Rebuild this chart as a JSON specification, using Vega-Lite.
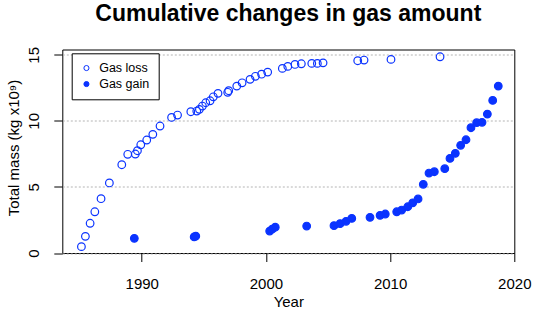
{
  "$schema": "https://vega.github.io/schema/vega-lite/v6.json",
  "width": 452,
  "height": 203.5,
  "autosize": "none",
  "padding": {"left": 62.3, "top": 49.5, "right": 18.7, "bottom": 57},
  "background": "white",
  "config": {
    "font": "Liberation Sans",
    "view": {"stroke": "black", "strokeWidth": 1}
  },
  "title": {
    "text": "Cumulative changes in gas amount",
    "font": "Liberation Sans",
    "fontSize": 23,
    "fontWeight": "bold",
    "color": "black",
    "anchor": "middle",
    "offset": 20.5
  },
  "data": {
    "values": [
      {"year": 1985.14, "mass": 0.48, "type": "Gas loss"},
      {"year": 1985.46, "mass": 1.26, "type": "Gas loss"},
      {"year": 1985.84, "mass": 2.25, "type": "Gas loss"},
      {"year": 1986.22, "mass": 3.12, "type": "Gas loss"},
      {"year": 1986.72, "mass": 4.11, "type": "Gas loss"},
      {"year": 1987.39, "mass": 5.30, "type": "Gas loss"},
      {"year": 1988.39, "mass": 6.68, "type": "Gas loss"},
      {"year": 1988.87, "mass": 7.47, "type": "Gas loss"},
      {"year": 1989.48, "mass": 7.49, "type": "Gas loss"},
      {"year": 1989.65, "mass": 7.74, "type": "Gas loss"},
      {"year": 1989.92, "mass": 8.19, "type": "Gas loss"},
      {"year": 1990.40, "mass": 8.55, "type": "Gas loss"},
      {"year": 1990.89, "mass": 8.98, "type": "Gas loss"},
      {"year": 1991.47, "mass": 9.61, "type": "Gas loss"},
      {"year": 1992.40, "mass": 10.26, "type": "Gas loss"},
      {"year": 1992.88, "mass": 10.44, "type": "Gas loss"},
      {"year": 1993.95, "mass": 10.69, "type": "Gas loss"},
      {"year": 1994.43, "mass": 10.74, "type": "Gas loss"},
      {"year": 1994.64, "mass": 10.87, "type": "Gas loss"},
      {"year": 1994.88, "mass": 11.12, "type": "Gas loss"},
      {"year": 1995.15, "mass": 11.37, "type": "Gas loss"},
      {"year": 1995.50, "mass": 11.52, "type": "Gas loss"},
      {"year": 1995.76, "mass": 11.82, "type": "Gas loss"},
      {"year": 1996.14, "mass": 12.08, "type": "Gas loss"},
      {"year": 1996.92, "mass": 12.16, "type": "Gas loss"},
      {"year": 1997.00, "mass": 12.28, "type": "Gas loss"},
      {"year": 1997.65, "mass": 12.63, "type": "Gas loss"},
      {"year": 1998.08, "mass": 12.88, "type": "Gas loss"},
      {"year": 1998.72, "mass": 13.14, "type": "Gas loss"},
      {"year": 1999.15, "mass": 13.37, "type": "Gas loss"},
      {"year": 1999.65, "mass": 13.53, "type": "Gas loss"},
      {"year": 2000.14, "mass": 13.69, "type": "Gas loss"},
      {"year": 2001.32, "mass": 13.97, "type": "Gas loss"},
      {"year": 2001.76, "mass": 14.12, "type": "Gas loss"},
      {"year": 2002.34, "mass": 14.27, "type": "Gas loss"},
      {"year": 2002.85, "mass": 14.32, "type": "Gas loss"},
      {"year": 2003.69, "mass": 14.35, "type": "Gas loss"},
      {"year": 2004.14, "mass": 14.35, "type": "Gas loss"},
      {"year": 2004.60, "mass": 14.39, "type": "Gas loss"},
      {"year": 2007.39, "mass": 14.55, "type": "Gas loss"},
      {"year": 2007.90, "mass": 14.60, "type": "Gas loss"},
      {"year": 2010.07, "mass": 14.65, "type": "Gas loss"},
      {"year": 2014.02, "mass": 14.85, "type": "Gas loss"},
      {"year": 1989.40, "mass": 1.11, "type": "Gas gain"},
      {"year": 1994.22, "mass": 1.22, "type": "Gas gain"},
      {"year": 1994.35, "mass": 1.28, "type": "Gas gain"},
      {"year": 2000.30, "mass": 1.66, "type": "Gas gain"},
      {"year": 2000.50, "mass": 1.80, "type": "Gas gain"},
      {"year": 2000.75, "mass": 1.95, "type": "Gas gain"},
      {"year": 2003.28, "mass": 2.04, "type": "Gas gain"},
      {"year": 2005.48, "mass": 2.07, "type": "Gas gain"},
      {"year": 2005.97, "mass": 2.22, "type": "Gas gain"},
      {"year": 2006.45, "mass": 2.40, "type": "Gas gain"},
      {"year": 2006.91, "mass": 2.62, "type": "Gas gain"},
      {"year": 2008.38, "mass": 2.70, "type": "Gas gain"},
      {"year": 2009.19, "mass": 2.85, "type": "Gas gain"},
      {"year": 2009.61, "mass": 2.95, "type": "Gas gain"},
      {"year": 2010.53, "mass": 3.12, "type": "Gas gain"},
      {"year": 2010.93, "mass": 3.25, "type": "Gas gain"},
      {"year": 2011.42, "mass": 3.50, "type": "Gas gain"},
      {"year": 2011.82, "mass": 3.80, "type": "Gas gain"},
      {"year": 2012.25, "mass": 4.09, "type": "Gas gain"},
      {"year": 2012.67, "mass": 5.20, "type": "Gas gain"},
      {"year": 2013.13, "mass": 6.05, "type": "Gas gain"},
      {"year": 2013.56, "mass": 6.15, "type": "Gas gain"},
      {"year": 2014.40, "mass": 6.38, "type": "Gas gain"},
      {"year": 2014.82, "mass": 7.16, "type": "Gas gain"},
      {"year": 2015.25, "mass": 7.54, "type": "Gas gain"},
      {"year": 2015.68, "mass": 8.15, "type": "Gas gain"},
      {"year": 2016.11, "mass": 8.57, "type": "Gas gain"},
      {"year": 2016.51, "mass": 9.48, "type": "Gas gain"},
      {"year": 2016.97, "mass": 9.86, "type": "Gas gain"},
      {"year": 2017.40, "mass": 9.89, "type": "Gas gain"},
      {"year": 2017.83, "mass": 10.51, "type": "Gas gain"},
      {"year": 2018.26, "mass": 11.55, "type": "Gas gain"},
      {"year": 2018.71, "mass": 12.63, "type": "Gas gain"}
    ]
  },
  "mark": {
    "type": "circle",
    "stroke": "#0a33ff",
    "strokeWidth": 1.2,
    "opacity": 1,
    "size": 58
  },
  "encoding": {
    "x": {
      "field": "year",
      "type": "quantitative",
      "scale": {"domain": [1983.6, 2020], "nice": false, "zero": false},
      "axis": {
        "values": [1990, 2000, 2010, 2020],
        "format": "d",
        "title": "Year",
        "grid": false,
        "domain": false,
        "tickSize": 8.5,
        "tickColor": "black",
        "labelFontSize": 15,
        "labelColor": "black",
        "labelBaseline": "alphabetic",
        "labelPadding": 26.5,
        "labelFlush": false,
        "labelOverlap": false,
        "titleFontSize": 15,
        "titleFontWeight": "normal",
        "titleColor": "black",
        "titleBaseline": "alphabetic",
        "titleY": 53.5
      }
    },
    "y": {
      "field": "mass",
      "type": "quantitative",
      "scale": {"domain": [0, 15.4], "nice": false, "zero": false},
      "axis": {
        "values": [0, 5, 10, 15],
        "title": "Total mass (kg x10⁹)",
        "grid": true,
        "gridDash": [2, 2],
        "gridColor": "#b4b4b4",
        "gridWidth": 1,
        "domain": false,
        "tickSize": 8.5,
        "tickColor": "black",
        "labelFontSize": 15,
        "labelColor": "black",
        "labelAngle": -90,
        "labelAlign": "center",
        "labelBaseline": "alphabetic",
        "labelPadding": 15.5,
        "labelFlush": false,
        "labelOverlap": false,
        "titleFontSize": 15,
        "titleFontWeight": "normal",
        "titleColor": "black",
        "titleAngle": -90,
        "titleAlign": "center",
        "titleBaseline": "alphabetic",
        "titleX": -44,
        "titleY": 98
      }
    },
    "fill": {
      "field": "type",
      "type": "nominal",
      "scale": {"domain": ["Gas loss", "Gas gain"], "range": ["transparent", "#0a33ff"]},
      "legend": {
        "title": null,
        "orient": "none",
        "legendX": 9.4,
        "legendY": 3.8,
        "strokeColor": "black",
        "fillColor": "white",
        "padding": 8.5,
        "cornerRadius": 0,
        "labelFont": "Liberation Sans",
        "labelFontSize": 12.5,
        "labelColor": "black",
        "labelOffset": 6.5,
        "rowPadding": 3,
        "symbolType": "circle",
        "symbolSize": 26,
        "symbolStrokeColor": "#0a33ff",
        "symbolStrokeWidth": 1,
        "symbolOpacity": 1
      }
    }
  }
}
